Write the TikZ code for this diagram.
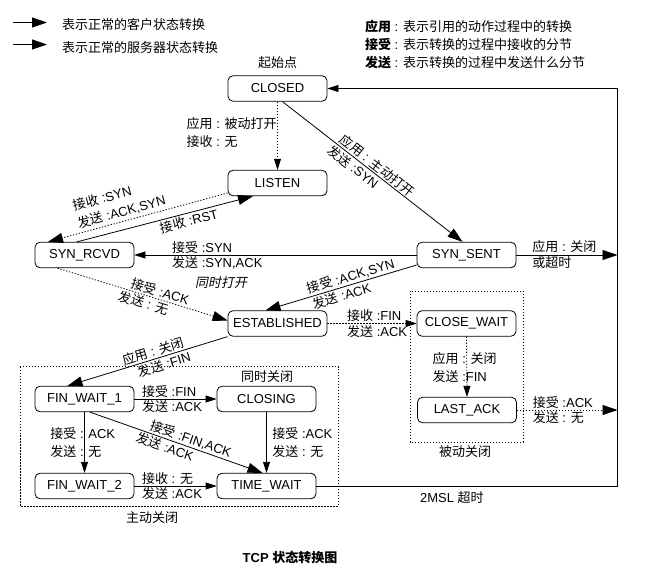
\documentclass[tikz,border=0pt]{standalone}
\usepackage{fontspec}
\setmainfont{Liberation Sans}
\newfontfamily\cjk{Noto Sans CJK SC}
\newfontfamily\cjkit{Noto Sans CJK SC}[FakeSlant=0.2]
\newcommand\zh[1]{{\cjk #1}}
\usetikzlibrary{arrows.meta}
\begin{document}
\begin{tikzpicture}[x=1pt,y=-1pt,
  every node/.style={font=\fontsize{13}{18}\selectfont},
  state/.style={draw, rounded corners=5pt, minimum width=99pt, minimum height=25.5pt, inner sep=0pt, line width=0.8pt},
  conn/.style={line width=0.8pt},
  dotconn/.style={conn, dash pattern=on 1.3pt off 1.7pt},
  big/.style={-{Triangle[length=15pt,width=10pt]}},
  small/.style={-{Triangle[length=11pt,width=7pt]}},
  lbl/.style={inner sep=1.5pt},
  dotbox/.style={draw, line width=0.8pt, dash pattern=on 1.3pt off 1.7pt}
]
\useasboundingbox (0,0) rectangle (649,575);

% legend
\coordinate (la1) at (13,22.5); \coordinate (la2) at (47,22.5);
\coordinate (lb1) at (13,44.5); \coordinate (lb2) at (47,44.5);
\draw[conn,big] (la1) -- (la2);
\draw[conn,big] (lb1) -- (lb2);
\node[anchor=west] (lt1) at (58.5,24.5) {\zh{表示正常的客户状态转换}};
\node[anchor=west] (lt2) at (58.5,47.5) {\zh{表示正常的服务器状态转换}};
\node[anchor=west] (rt1) at (361.5,27) {\zh{\bfseries 应用} : \zh{表示引用的动作过程中的转换}};
\node[anchor=west] (rt2) at (361.5,45) {\zh{\bfseries 接受} : \zh{表示转换的过程中接收的分节}};
\node[anchor=west] (rt3) at (361.5,63) {\zh{\bfseries 发送} : \zh{表示转换的过程中发送什么分节}};

% groups
\draw[dotbox] (20,366.5) rectangle (338.5,506);
\draw[dotbox] (410,291) rectangle (523,442);

% states
\node[state] (closed) at (277.5,88.5) {CLOSED};
\node[state] (listen) at (277.5,183) {LISTEN};
\node[state] (synrcvd) at (84.5,255) {SYN\_RCVD};
\node[state] (synsent) at (466.5,255) {SYN\_SENT};
\node[state] (est) at (277.5,323.5) {ESTABLISHED};
\node[state] (closewait) at (466.5,323.5) {CLOSE\_WAIT};
\node[state] (lastack) at (467,410) {LAST\_ACK};
\node[state] (fw1) at (84.5,399) {FIN\_WAIT\_1};
\node[state] (closing) at (266.5,399) {CLOSING};
\node[state] (fw2) at (84.5,486) {FIN\_WAIT\_2};
\node[state] (timewait) at (266.5,486) {TIME\_WAIT};

% captions
\node (start) at (277.5,63) {\zh{起始点}};
\node (simclose) at (267,377) {\zh{同时关闭}};
\node (actclose) at (152,518) {\zh{主动关闭}};
\node (pasclose) at (465,452) {\zh{被动关闭}};
\node (title) at (290,558) {\bfseries TCP \zh{\bfseries 状态转换图}};

% connectors
\draw[dotconn,small] (closed) -- (listen);
\node[lbl,anchor=west] (pl1) at (185,124) {\zh{应用} : \zh{被动打开}};
\node[lbl,anchor=west] (pl2) at (185,142) {\zh{接收} : \zh{无}};

\draw[conn,big] ([xshift=5pt]closed.south) -- ([xshift=-4pt]synsent.north)
  node[lbl,sloped,above,pos=0.5]{\zh{应用} : \zh{主动打开}}
  node[lbl,sloped,below,pos=0.42]{\zh{发送} :SYN};

\draw[dotconn,big] ([yshift=-10pt]listen.west) -- ([xshift=-36.5pt]synrcvd.north)
  node[sloped,above,pos=0.576,align=left,inner sep=3pt]{\zh{接收} :SYN\\\zh{发送} :ACK,SYN};

\draw[conn,big] ([xshift=-7.5pt]synrcvd.north) -- ([xshift=-24.5pt]listen.south)
  node[lbl,sloped,below,pos=0.625]{\zh{接收} :RST};

\draw[conn,small] (synsent.west) -- (synrcvd.east)
  node[lbl,pos=0.873,anchor=south west]{\zh{接受} :SYN}
  node[lbl,pos=0.873,anchor=north west]{\zh{发送} :SYN,ACK};
\node (simopen) at (221,283) {\cjkit 同时打开};

\draw[conn,big] ([yshift=-10pt]synsent.west) -- ([xshift=-12pt]est.north)
  node[lbl,sloped,above,pos=0.42]{\zh{接受} :ACK,SYN}
  node[lbl,sloped,below,pos=0.51]{\zh{发送} :ACK};

\draw[dotconn,big] ([xshift=-27pt]synrcvd.south) -- ([yshift=3pt]est.west)
  node[lbl,sloped,above,pos=0.59]{\zh{接受} :ACK}
  node[lbl,sloped,below,pos=0.52]{\zh{发送} : \zh{无}};

\draw[dotconn,small] (est.east) -- (closewait.west)
  node[lbl,pos=0.2,anchor=south west]{\zh{接收} :FIN}
  node[lbl,pos=0.2,anchor=north west]{\zh{发送} :ACK};

\draw[conn,big] (est.south west) -- ([xshift=-17pt]fw1.north)
  node[lbl,sloped,above,pos=0.45]{\zh{应用} : \zh{关闭}}
  node[lbl,sloped,below,pos=0.41]{\zh{发送} :FIN};

\draw[conn,small] (fw1.east) -- (closing.west)
  node[lbl,pos=0.07,anchor=south west]{\zh{接受} :FIN}
  node[lbl,pos=0.07,anchor=north west]{\zh{发送} :ACK};

\draw[conn,small] (fw1.south) -- (fw2.north)
  node[lbl,pos=0.5,anchor=west,xshift=-36pt,align=left]{\zh{接受} : ACK\\\zh{发送} : \zh{无}};

\draw[conn,big] ([xshift=5.5pt]fw1.south) -- ([xshift=-4pt]timewait.north)
  node[lbl,sloped,above,pos=0.57]{\zh{接受} :FIN,ACK}
  node[lbl,sloped,below,pos=0.45]{\zh{发送} :ACK};

\draw[conn,small] (closing.south) -- (timewait.north)
  node[lbl,pos=0.5,anchor=west,xshift=4pt,align=left]{\zh{接受} :ACK\\\zh{发送} : \zh{无}};

\draw[conn,small] (fw2.east) -- (timewait.west)
  node[lbl,pos=0.07,anchor=south west]{\zh{接收} : \zh{无}}
  node[lbl,pos=0.07,anchor=north west]{\zh{发送} :ACK};

\coordinate (rail) at (617.5,0);
\draw[conn,small] (timewait.east) -- (timewait.east -| rail)
  node[lbl,pos=0.45,below,yshift=-4pt]{2MSL \zh{超时}}
  -- (closed.east -| rail) -- (closed.east);

\draw[conn,big] (synsent.east) -- (synsent.east -| rail)
  node[lbl,pos=0.14,anchor=south west]{\zh{应用} : \zh{关闭}}
  node[lbl,pos=0.14,anchor=north west]{\zh{或超时}};

\draw[dotconn,small] (closewait.south) -- (lastack.north)
  node[lbl,pos=0.52,anchor=west,xshift=-36pt,align=left]{\zh{应用} : \zh{关闭}\\\zh{发送} :FIN};

\draw[dotconn,big] (lastack.east) -- (lastack.east -| rail)
  node[lbl,pos=0.14,anchor=south west]{\zh{接受} :ACK}
  node[lbl,pos=0.14,anchor=north west]{\zh{发送} : \zh{无}};
\end{tikzpicture}
\end{document}
